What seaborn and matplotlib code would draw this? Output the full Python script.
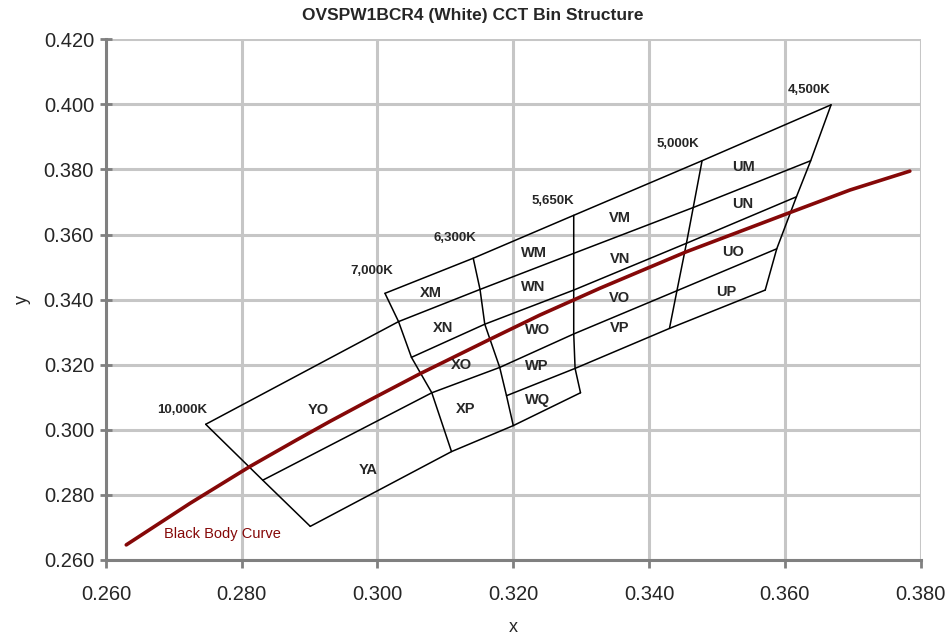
import matplotlib
matplotlib.use("Agg")
import matplotlib.pyplot as plt
import matplotlib.ticker as mticker
import pandas as pd
import seaborn as sns

# black body curve
bbl_x = [0.2630, 0.2724, 0.2812, 0.2881, 0.2930, 0.2989, 0.3063, 0.3166,
         0.3239, 0.3328, 0.3455, 0.3608, 0.3696, 0.3784]
bbl_y = [0.2645, 0.2773, 0.2886, 0.2968, 0.3025, 0.3091, 0.3172, 0.3278,
         0.3352, 0.3435, 0.3547, 0.3668, 0.3737, 0.3795]

# iso-CCT boundaries, vertices top to bottom
cct_10000_x = [0.2747, 0.2831, 0.2901]
cct_10000_y = [0.3016, 0.2844, 0.2702]
cct_7000_x = [0.3011, 0.3031, 0.3050, 0.3080, 0.3109]
cct_7000_y = [0.3419, 0.3332, 0.3222, 0.3113, 0.2932]
cct_6300_x = [0.3141, 0.3151, 0.3158, 0.3180, 0.3190, 0.3200]
cct_6300_y = [0.3527, 0.3431, 0.3324, 0.3191, 0.3104, 0.3012]
cct_5650_x = [0.3289, 0.3289, 0.3289, 0.3289, 0.3291, 0.3299]
cct_5650_y = [0.3659, 0.3542, 0.3429, 0.3294, 0.3188, 0.3113]
cct_5000_x = [0.3478, 0.3465, 0.3455, 0.3441, 0.3430]
cct_5000_y = [0.3827, 0.3683, 0.3573, 0.3427, 0.3311]
cct_4500_x = [0.3668, 0.3638, 0.3617, 0.3588, 0.3571]
cct_4500_y = [0.3999, 0.3827, 0.3716, 0.3556, 0.3429]

cct_names = ["10,000K", "7,000K", "6,300K", "5,650K", "5,000K", "4,500K"]
cct_label_x = [0.2712, 0.2992, 0.3114, 0.3259, 0.3442, 0.3636]
cct_label_y = [0.3060, 0.3488, 0.3590, 0.3704, 0.3879, 0.4045]

bin_names = ["YO", "YA", "XM", "XN", "XO", "XP", "WM", "WN", "WO", "WP", "WQ",
             "VM", "VN", "VO", "VP", "UM", "UN", "UO", "UP"]
bin_x = [0.2913, 0.2986, 0.3078, 0.3097, 0.3124, 0.3130, 0.3231, 0.3230, 0.3235,
         0.3235, 0.3235, 0.3357, 0.3357, 0.3357, 0.3356, 0.3539, 0.3538, 0.3524, 0.3513]
bin_y = [0.3060, 0.2875, 0.3421, 0.3311, 0.3199, 0.3062, 0.3542, 0.3438, 0.3306,
         0.3196, 0.3091, 0.3650, 0.3524, 0.3404, 0.3311, 0.3807, 0.3694, 0.3545, 0.3424]

# which vertex of each CCT line the bin edges (parallel to the curve) join
cct_lines = [(cct_10000_x, cct_10000_y), (cct_7000_x, cct_7000_y), (cct_6300_x, cct_6300_y),
             (cct_5650_x, cct_5650_y), (cct_5000_x, cct_5000_y), (cct_4500_x, cct_4500_y)]
edge_links = [
    [None, 0, 0, 0, 0, 0],
    [0, 1, 1, 1, 1, 1],
    [None, 2, 2, 2, 2, 2],
    [1, 3, 3, 3, 3, 3],
    [None, None, 4, 4, 4, 4],
    [2, 4, 5, 5, None, None],
]

rows = []
seg = 0
for cx, cy in cct_lines:
    for i in range(len(cx)):
        rows.append((seg, cx[i], cy[i]))
    seg += 1
for link in edge_links:
    for (cx, cy), k in zip(cct_lines, link):
        if k is not None:
            rows.append((seg, cx[k], cy[k]))
    seg += 1
seg_df = pd.DataFrame(rows, columns=["seg", "x", "y"])

sns.set_style("whitegrid")
plt.rcParams['font.family'] = ['Liberation Sans', 'DejaVu Sans']

fig = plt.figure(figsize=(9.48, 6.34), dpi=100)
ax = fig.add_axes([0.1117, 0.1175, 0.8595, 0.8202])

sns.lineplot(data=seg_df, x="x", y="y", units="seg", estimator=None, sort=False,
             color="black", lw=1.1, ax=ax)
sns.lineplot(x=bbl_x, y=bbl_y, sort=False, estimator=None, color="#850808", lw=2.6, ax=ax)

for name, tx, ty in zip(cct_names, cct_label_x, cct_label_y):
    ax.text(tx, ty, name, ha="center", va="center", fontsize=9.5, fontweight="bold")
for name, tx, ty in zip(bin_names, bin_x, bin_y):
    ax.text(tx, ty, name, ha="center", va="center", fontsize=10.5, fontweight="bold")
ax.text(0.2685, 0.2678, "Black Body Curve", ha="left", va="center", fontsize=10.5, color="#850808")

ax.set_xlim(0.26, 0.38)
ax.set_ylim(0.26, 0.42)
ax.xaxis.set_major_locator(mticker.MultipleLocator(0.02))
ax.yaxis.set_major_locator(mticker.MultipleLocator(0.02))
ax.xaxis.set_major_formatter(mticker.FormatStrFormatter("%.3f"))
ax.yaxis.set_major_formatter(mticker.FormatStrFormatter("%.3f"))

ax.grid(True, color="#c6c6c6", lw=2.2)
for s in ["top", "right"]:
    ax.spines[s].set_visible(False)
for s in ["left", "bottom"]:
    ax.spines[s].set_color("#808080")
    ax.spines[s].set_linewidth(2.2)
ax.tick_params(axis="both", which="major", bottom=True, left=True, width=2,
               color="#808080", labelsize=14.5)
ax.tick_params(axis="y", direction="inout", length=9, pad=4)
ax.tick_params(axis="x", direction="out", length=6, pad=12)

ax.set_xlabel("x", fontsize=13, labelpad=11)
ax.set_ylabel("y", fontsize=13, labelpad=9)
fig.text(0.499, 0.976, "OVSPW1BCR4 (White) CCT Bin Structure", ha="center", va="center",
         fontsize=12.5, fontweight="bold")

fig.savefig("out.png", dpi=100)
